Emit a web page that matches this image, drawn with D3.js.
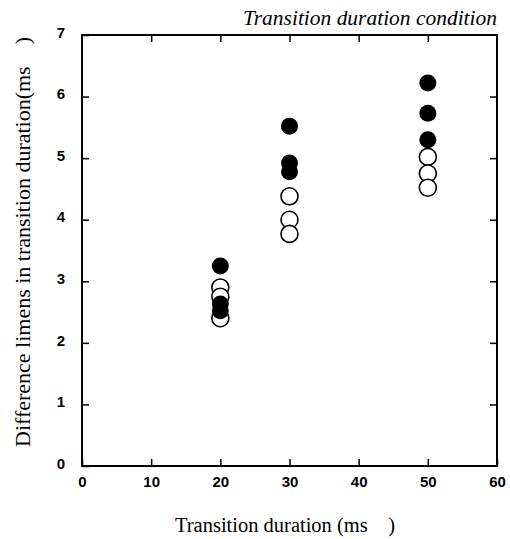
<!DOCTYPE html>
<html>
<head>
<meta charset="utf-8">
<script src="https://cdn.jsdelivr.net/npm/d3@7"></script>
<style>
  body { margin: 0; background: #fff; }
  .tick text { font-family: "Liberation Sans", Arial, sans-serif; font-weight: bold; font-size: 15px; }
</style>
</head>
<body>
<svg id="chart" width="510" height="539"></svg>
<script>
// transition duration (ms) and difference limens, one entry per point
var filledX = [20, 20, 20, 30, 30, 30, 50, 50, 50];
var filledY = [3.25, 2.63, 2.52, 5.52, 4.92, 4.78, 6.22, 5.73, 5.3];
var openX = [20, 20, 20, 30, 30, 30, 50, 50, 50];
var openY = [2.9, 2.75, 2.4, 4.38, 4.0, 3.77, 5.02, 4.75, 4.52];
var xTicks = [0, 10, 20, 30, 40, 50, 60];
var yTicks = [0, 1, 2, 3, 4, 5, 6, 7];

(function () {
    var svg = d3.select('#chart');
    var pLeft = 82, pRight = 497, pTop = 35, pBottom = 466;
    var serif = '"Liberation Serif", "Times New Roman", serif';

    var x = d3.scaleLinear().domain([0, 60]).range([pLeft, pRight]);
    var y = d3.scaleLinear().domain([0, 7]).range([pBottom, pTop]);

    // frame
    svg.append('rect')
        .attr('x', pLeft).attr('y', pTop)
        .attr('width', pRight - pLeft).attr('height', pBottom - pTop)
        .attr('fill', 'none').attr('stroke', '#000').attr('stroke-width', 2);

    // axes with inward ticks
    var gx = svg.append('g').attr('transform', 'translate(0,' + pBottom + ')')
        .call(d3.axisBottom(x).tickValues(xTicks).tickFormat(d3.format('d'))
            .tickSizeInner(-7).tickSizeOuter(0).tickPadding(10));
    var gy = svg.append('g').attr('transform', 'translate(' + pLeft + ',0)')
        .call(d3.axisLeft(y).tickValues(yTicks).tickFormat(d3.format('d'))
            .tickSizeInner(-7).tickSizeOuter(0).tickPadding(17));
    svg.append('g').attr('transform', 'translate(0,' + pTop + ')')
        .call(d3.axisTop(x).tickValues(xTicks.slice(1, -1)).tickSizeInner(-7).tickSizeOuter(0).tickFormat(''));
    svg.append('g').attr('transform', 'translate(' + pRight + ',0)')
        .call(d3.axisRight(y).tickValues(yTicks.slice(1, -1)).tickSizeInner(-7).tickSizeOuter(0).tickFormat(''));

    svg.selectAll('.domain').remove();
    svg.selectAll('.tick line').attr('stroke', '#000').attr('stroke-width', 1.5);
    gx.selectAll('.tick text').attr('fill', '#000');
    gy.selectAll('.tick text').attr('fill', '#000').attr('dy', '0.15em');

    // points
    var r = 8.5;
    svg.append('g').selectAll('circle.open').data(openY).enter().append('circle')
        .attr('class', 'open')
        .attr('cx', function (d, i) { return x(openX[i]); })
        .attr('cy', function (d) { return y(d); })
        .attr('r', r)
        .attr('fill', '#fff').attr('stroke', '#000').attr('stroke-width', 1.6);
    svg.append('g').selectAll('circle.filled').data(filledY).enter().append('circle')
        .attr('class', 'filled')
        .attr('cx', function (d, i) { return x(filledX[i]); })
        .attr('cy', function (d) { return y(d); })
        .attr('r', r)
        .attr('fill', '#000');

    // texts
    svg.append('text')
        .attr('x', pRight).attr('y', 25)
        .attr('text-anchor', 'end')
        .style('font-family', serif)
        .style('font-style', 'italic').style('font-size', '21px')
        .attr('textLength', 254).attr('lengthAdjust', 'spacingAndGlyphs')
        .text('Transition duration condition');

    svg.append('text')
        .attr('x', 285).attr('y', 532)
        .attr('text-anchor', 'middle')
        .style('font-family', serif)
        .style('font-size', '20px')
        .attr('textLength', 220).attr('lengthAdjust', 'spacingAndGlyphs')
        .text('Transition duration (ms\u00a0\u00a0\u00a0\u00a0)');

    svg.append('text')
        .attr('transform', 'translate(30,242) rotate(-90)')
        .attr('text-anchor', 'middle')
        .style('font-family', serif)
        .style('font-size', '20px')
        .attr('textLength', 410).attr('lengthAdjust', 'spacingAndGlyphs')
        .text('Difference limens in transition duration(ms\u00a0\u00a0\u00a0\u00a0)');
})();
</script>
</body>
</html>
